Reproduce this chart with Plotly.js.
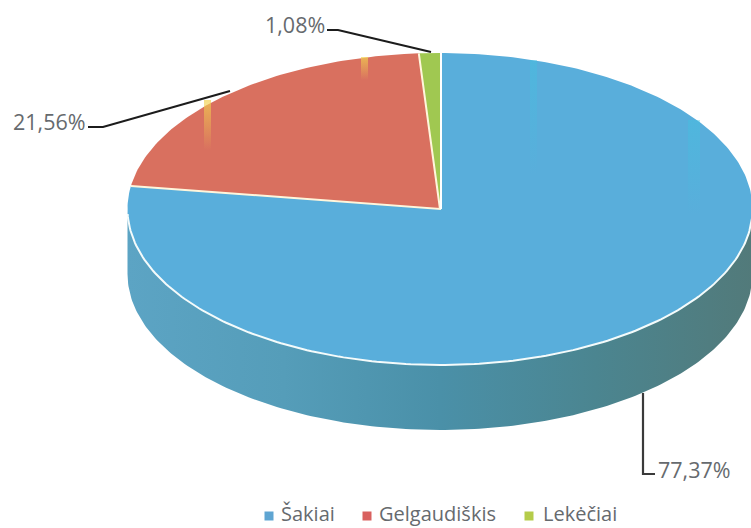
<!DOCTYPE html>
<html><head><meta charset="utf-8">
<script src="https://cdn.plot.ly/plotly-3.0.1.min.js"></script>
<style>html,body{margin:0;padding:0;background:#fff}#c{width:751px;height:528px}</style>
</head><body><div id="c"></div>
<script>
const categories = ["Šakiai", "Gelgaudiškis", "Lekėčiai"];
const shares = [77.37, 21.56, 1.08];
const sliceColors = ["#59aedb", "#d9705f", "#a0c851"];
const legendColors = ["#5fa5d2", "#d9615f", "#b5cc4a"];
const legendMarkerX = [269, 367, 529];
const legendTextX = [281, 379, 543];
const cx = 440, cy = 209, rx = 312.5, ry = 156, depth = 65;
const total = shares.reduce((a, b) => a + b, 0);
const pt = (pct, dy) => {
  const a = pct / total * 2 * Math.PI;
  return [cx + rx * Math.sin(a), cy - ry * Math.cos(a) + (dy || 0)];
};
const arc = (from, to, dy) => {
  const out = [], n = Math.max(2, Math.ceil(Math.abs(to - from) * 4));
  for (let i = 0; i <= n; i++) out.push(pt(from + (to - from) * i / n, dy));
  return out;
};
const xs = p => p.map(q => q[0]), ys = p => p.map(q => q[1]);
const traces = [];
// side wall
const front = arc(25, 75, 0), back = arc(75, 25, depth);
const wall = front.concat(back);
traces.push({x: xs(wall).concat(wall[0][0]), y: ys(wall).concat(wall[0][1]), mode: "lines", fill: "toself",
  line: {width: 0}, showlegend: false, hoverinfo: "skip", fillcolor: "#4f93ae",
  fillgradient: {type: "horizontal", colorscale: [[0, "#5ca4c4"], [0.25, "#559db9"], [0.5, "#4a90a8"], [0.75, "#4b8590"], [1, "#527a7a"]]}});
// top slices
let start = 0;
const bounds = [];
shares.forEach((v, i) => {
  const end = start + v;
  const p = [[cx, cy]].concat(arc(start, end)).concat([[cx, cy]]);
  traces.push({x: xs(p), y: ys(p), mode: "lines", fill: "toself", fillcolor: sliceColors[i],
    line: {width: 0}, name: categories[i], showlegend: false, hoverinfo: "name"});
  bounds.push(start);
  start = end;
});
// scan streaks on the top face
const streaks = [[530, 537, 60, 175, "64,195,225", 0.4], [688, 700, 120, 215, "64,195,225", 0.4],
                 [204, 211, 100, 150, "242,210,79", 0.7], [361, 368, 57, 80, "242,210,79", 0.7]];
streaks.forEach(s => {
  const px = [s[0], s[1], s[1], s[0], s[0]], py = [s[2], s[2], s[3], s[3], s[2]];
  traces.push({x: px, y: py, mode: "lines", fill: "toself", line: {width: 0}, showlegend: false, hoverinfo: "skip",
    fillcolor: "rgba(" + s[4] + ",0.3)",
    fillgradient: {type: "vertical", colorscale: [[0, "rgba(" + s[4] + ",0)"], [1, "rgba(" + s[4] + "," + s[5] + ")"]]}});
});
// separators and rim
const a = pt(bounds[1]), b = pt(bounds[2]), c0 = pt(0);
traces.push({x: [a[0], cx, b[0]], y: [a[1], cy, b[1]], mode: "lines", line: {color: "#fff6dc", width: 2}, showlegend: false, hoverinfo: "skip"});
traces.push({x: [cx + 1, c0[0] + 1], y: [cy, c0[1]], mode: "lines", line: {color: "#ffffff", width: 2}, showlegend: false, hoverinfo: "skip"});
const rim = arc(26, 74.5);
traces.push({x: xs(rim), y: ys(rim), mode: "lines", line: {color: "#f4fbfb", width: 2}, showlegend: false, hoverinfo: "skip"});
// leader lines
const leaders = [[[88, 103, 230], [127, 127, 91]], [[327, 338, 431], [30, 30, 52]], [[643, 643, 655], [393, 474, 474]]];
leaders.forEach((l, i) => traces.push({x: l[0], y: l[1], mode: "lines", line: {color: i === 2 ? "#3a3a3a" : "#1c1c1c", width: 2.2}, showlegend: false, hoverinfo: "skip"}));
// legend entries
categories.forEach((n, i) => traces.push({x: [legendMarkerX[i]], y: [516], mode: "markers", name: n, showlegend: false,
  marker: {symbol: "square", size: 9, color: legendColors[i]}, hoverinfo: "name"}));
const fmt = v => v.toFixed(2).replace(".", ",") + "%";
const font = {family: "Open Sans, sans-serif", size: 21.5, color: "#666a6e"};
const legendFont = {family: "Open Sans, sans-serif", size: 20, color: "#666a6e"};
const layout = {
  width: 751, height: 528, margin: {l: 0, r: 0, t: 0, b: 0}, paper_bgcolor: "#fff", plot_bgcolor: "#fff",
  xaxis: {range: [0, 751], visible: false, fixedrange: true},
  yaxis: {range: [528, 0], visible: false, fixedrange: true},
  showlegend: false,
  annotations: [
    {text: fmt(shares[1]), x: 85.5, y: 121, xanchor: "right", font: font},
    {text: fmt(shares[2]), x: 325, y: 24, xanchor: "right", font: font},
    {text: fmt(shares[0]), x: 658, y: 469, xanchor: "left", font: font}
  ].concat(categories.map((n, i) => ({text: n, x: legendTextX[i], y: 513.5, xanchor: "left", font: legendFont})))
   .map(o => Object.assign(o, {xref: "x", yref: "y", showarrow: false, yanchor: "middle", borderpad: 0, borderwidth: 0}))
};
Plotly.newPlot("c", traces, layout, {displayModeBar: false, staticPlot: true});
</script></body></html>
